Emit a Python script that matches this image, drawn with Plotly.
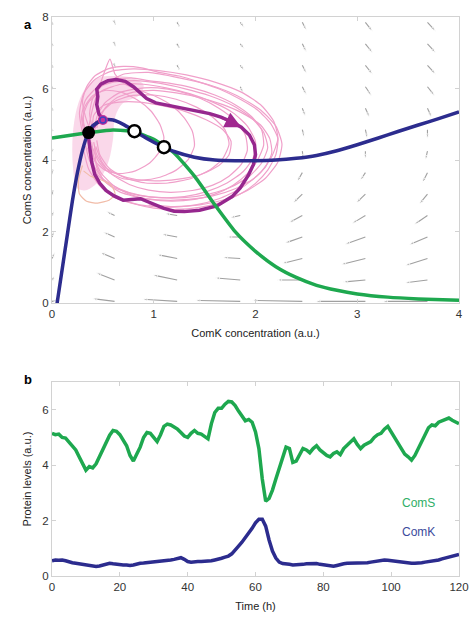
import plotly.graph_objects as go

# ---------------- Panel a data ----------------
# ComK nullcline (blue)
blue_k = [0.05, 0.10, 0.15, 0.20, 0.25, 0.30, 0.35, 0.40, 0.50, 0.60, 0.70, 0.80, 0.90, 1.00, 1.10,
          1.20, 1.40, 1.60, 1.80, 2.00, 2.20, 2.40, 2.60, 2.80, 3.00, 3.20, 3.40, 3.60, 3.80, 4.00]
blue_s = [0.00, 0.95, 1.90, 2.85, 3.65, 4.28, 4.72, 4.96, 5.13, 5.12, 5.00, 4.83, 4.66, 4.50, 4.36,
          4.24, 4.08, 4.00, 3.98, 3.98, 4.00, 4.05, 4.13, 4.26, 4.43, 4.61, 4.80, 4.98, 5.16, 5.35]
# ComS nullcline (green)
green_k = [0.0, 0.2, 0.4, 0.6, 0.8, 1.0, 1.2, 1.4, 1.6, 1.8, 2.0, 2.2, 2.4, 2.6, 2.8, 3.0, 3.3, 3.6, 4.0]
green_s = [4.62, 4.70, 4.78, 4.84, 4.80, 4.58, 4.20, 3.55, 2.75, 2.00, 1.45, 1.02, 0.72, 0.50, 0.36,
           0.26, 0.17, 0.12, 0.08]

# fixed points
stable_k, stable_s = [0.36], [4.77]
unstable_k, unstable_s = [0.81, 1.10], [4.81, 4.36]

# highlighted trajectory (purple)
traj_k = [0.50, 0.46, 0.44, 0.45, 0.44, 0.48, 0.55, 0.63, 0.72, 0.80, 0.86, 0.93, 1.02, 1.14, 1.25, 1.40,
          1.55, 1.66, 1.76, 1.86, 1.94, 1.99, 2.00, 1.98, 1.93, 1.85, 1.77, 1.62, 1.45, 1.30, 1.20, 1.10,
          0.98, 0.87, 0.78, 0.70, 0.61, 0.53, 0.47, 0.42, 0.39, 0.37, 0.36, 0.39, 0.44, 0.50]
traj_s = [5.12, 5.30, 5.55, 5.78, 5.98, 6.12, 6.22, 6.25, 6.20, 6.05, 5.90, 5.72, 5.60, 5.53, 5.49, 5.40,
          5.30, 5.20, 5.08, 4.92, 4.70, 4.42, 4.15, 3.88, 3.58, 3.22, 2.98, 2.72, 2.60, 2.56, 2.57, 2.65,
          2.78, 2.92, 2.90, 2.88, 3.00, 3.15, 3.35, 3.60, 3.95, 4.30, 4.60, 4.88, 5.05, 5.12]

# stochastic trajectories (pink loops)
loops = [
    ([0.38, 0.33, 0.30, 0.34, 0.42, 0.55, 0.70, 0.88, 1.05, 1.25, 1.45, 1.65, 1.85, 2.02, 2.15, 2.22, 2.20,
      2.12, 2.00, 1.85, 1.66, 1.45, 1.22, 1.00, 0.80, 0.62, 0.50, 0.42, 0.37, 0.38],
     [4.80, 5.20, 5.65, 6.05, 6.35, 6.55, 6.62, 6.58, 6.45, 6.35, 6.18, 5.98, 5.70, 5.40, 5.02, 4.60, 4.15,
      3.72, 3.35, 3.05, 2.82, 2.68, 2.62, 2.66, 2.78, 2.95, 3.20, 3.60, 4.10, 4.55]),
    ([0.40, 0.37, 0.40, 0.48, 0.60, 0.78, 0.95, 1.15, 1.38, 1.60, 1.80, 1.96, 2.06, 2.08, 2.02, 1.92, 1.78,
      1.60, 1.40, 1.18, 0.96, 0.76, 0.60, 0.48, 0.41, 0.39],
     [4.85, 5.30, 5.72, 6.05, 6.25, 6.30, 6.22, 6.15, 6.02, 5.82, 5.55, 5.22, 4.85, 4.42, 4.00, 3.62, 3.30,
      3.05, 2.90, 2.85, 2.90, 3.05, 3.30, 3.65, 4.10, 4.50]),
    ([0.42, 0.44, 0.52, 0.66, 0.84, 1.04, 1.25, 1.46, 1.64, 1.80, 1.90, 1.92, 1.86, 1.74, 1.58, 1.38, 1.16,
      0.95, 0.76, 0.60, 0.49, 0.43],
     [4.75, 5.20, 5.60, 5.88, 6.00, 6.02, 5.92, 5.72, 5.45, 5.10, 4.70, 4.28, 3.88, 3.55, 3.30, 3.15, 3.10,
      3.16, 3.32, 3.58, 3.95, 4.38]),
    ([0.36, 0.31, 0.32, 0.40, 0.52, 0.68, 0.84, 0.97, 1.06, 1.10, 1.06, 0.96, 0.82, 0.66, 0.52, 0.42, 0.37],
     [4.62, 5.05, 5.48, 5.80, 5.95, 5.90, 5.68, 5.38, 5.00, 4.62, 4.25, 3.92, 3.70, 3.62, 3.72, 3.98, 4.30]),
    ([0.45, 0.52, 0.64, 0.80, 1.00, 1.22, 1.45, 1.68, 1.88, 2.05, 2.14, 2.16, 2.10, 1.98, 1.80, 1.58, 1.34,
      1.10, 0.86, 0.66, 0.52, 0.44, 0.42],
     [5.00, 5.45, 5.75, 5.90, 5.95, 5.88, 5.75, 5.55, 5.30, 4.98, 4.60, 4.20, 3.82, 3.48, 3.20, 3.00, 2.90,
      2.88, 2.95, 3.12, 3.40, 3.80, 4.35]),
    ([0.36, 0.40, 0.46, 0.52, 0.57, 0.62, 0.72, 0.86, 1.02, 1.18, 1.30, 1.38, 1.40, 1.34, 1.22, 1.06, 0.88,
      0.70, 0.56, 0.46, 0.39],
     [4.90, 5.45, 6.00, 6.50, 6.82, 6.40, 6.12, 5.95, 5.78, 5.52, 5.18, 4.80, 4.40, 4.02, 3.72, 3.52, 3.44,
      3.48, 3.65, 3.95, 4.40]),
    ([0.40, 0.41, 0.50, 0.66, 0.86, 1.08, 1.32, 1.52, 1.68, 1.76, 1.74, 1.64, 1.48, 1.28, 1.06, 0.84, 0.66,
      0.52, 0.44, 0.41],
     [4.80, 5.25, 5.52, 5.62, 5.62, 5.52, 5.35, 5.12, 4.85, 4.52, 4.15, 3.85, 3.62, 3.48, 3.42, 3.45, 3.58,
      3.80, 4.15, 4.50]),
    ([0.32, 0.29, 0.33, 0.44, 0.60, 0.82, 1.05, 1.30, 1.55, 1.78, 1.96, 2.08, 2.12, 2.06, 1.94, 1.76, 1.54,
      1.30, 1.05, 0.80, 0.60, 0.46, 0.37, 0.33],
     [4.70, 5.20, 5.68, 6.02, 6.18, 6.22, 6.15, 6.00, 5.80, 5.52, 5.18, 4.78, 4.35, 3.92, 3.55, 3.25, 3.05,
      2.95, 2.95, 3.05, 3.25, 3.55, 3.98, 4.40]),
    ([0.50, 0.70, 0.95, 1.25, 1.55, 1.82, 2.05, 2.20, 2.26, 2.22, 2.10, 1.92, 1.70, 1.45, 1.20, 0.95],
     [6.10, 6.40, 6.45, 6.30, 6.10, 5.80, 5.40, 4.95, 4.45, 3.95, 3.50, 3.15, 2.90, 2.75, 2.70, 2.75]),
    ([0.34, 0.30, 0.36, 0.50, 0.68, 0.90, 1.12, 1.36, 1.58, 1.78, 1.92, 2.00, 1.98, 1.88, 1.72, 1.52, 1.30,
      1.08, 0.86, 0.66, 0.50, 0.40, 0.35],
     [4.70, 5.15, 5.62, 5.95, 6.12, 6.12, 6.02, 5.85, 5.62, 5.32, 4.95, 4.52, 4.08, 3.68, 3.36, 3.12, 2.98,
      2.95, 3.02, 3.20, 3.48, 3.90, 4.35]),
    ([0.44, 0.48, 0.60, 0.78, 1.00, 1.22, 1.42, 1.58, 1.70, 1.74, 1.68, 1.55, 1.36, 1.14, 0.92, 0.72, 0.56,
      0.47, 0.44],
     [4.90, 5.30, 5.62, 5.80, 5.82, 5.70, 5.48, 5.20, 4.85, 4.45, 4.05, 3.72, 3.48, 3.36, 3.36, 3.50, 3.78,
      4.15, 4.55]),
    ([0.30, 0.27, 0.31, 0.42, 0.58, 0.80, 1.05, 1.32, 1.60, 1.86, 2.06, 2.18, 2.22, 2.16, 2.04, 1.86, 1.64,
      1.40, 1.14, 0.88, 0.66, 0.48, 0.36, 0.31],
     [4.75, 5.30, 5.85, 6.25, 6.48, 6.55, 6.50, 6.38, 6.18, 5.90, 5.52, 5.08, 4.60, 4.10, 3.62, 3.22, 2.92,
      2.74, 2.68, 2.74, 2.92, 3.25, 3.75, 4.30]),
]
small_loop_k = [0.30, 0.26, 0.27, 0.34, 0.45, 0.56, 0.62, 0.58, 0.48, 0.38, 0.31]
small_loop_s = [3.85, 3.45, 3.05, 2.85, 2.80, 2.88, 3.05, 3.30, 3.45, 3.55, 3.70]
dense_k = [0.22, 0.20, 0.21, 0.26, 0.34, 0.45, 0.60, 0.78, 0.90, 0.85, 0.70, 0.62, 0.60, 0.56, 0.50, 0.42,
           0.32, 0.25]
dense_s = [3.40, 4.10, 4.90, 5.60, 6.05, 6.30, 6.35, 6.30, 6.10, 5.80, 5.60, 5.20, 4.60, 4.00, 3.60, 3.30,
           3.15, 3.20]

# vector field (grid + rates; None = hidden under trajectories)
field_k = [0.0, 0.615, 1.23, 1.85, 2.46, 3.08, 3.69]
field_s = [0.05, 0.65, 1.25, 1.85, 2.45, 3.05, 3.65, 4.25, 4.85, 5.45, 6.05, 6.65, 7.25, 7.85]
N = None
field_u = [
    [0.04, -0.22, -0.34, -0.44, -0.49, -0.49, -0.44],
    [0.03, -0.18, -0.24, -0.25, -0.25, -0.22, -0.22],
    [0.03, -0.14, -0.20, -0.17, -0.20, -0.24, -0.22],
    [0.02, -0.11, -0.15, -0.13, -0.17, -0.20, -0.18],
    [0.02, -0.08, -0.12, -0.10, -0.13, -0.13, -0.13],
    [0.01, N, N, N, -0.09, -0.09, -0.08],
    [0.01, N, N, N, -0.05, -0.05, -0.05],
    [0.01, N, N, N, 0.01, 0.00, -0.02],
    [0.01, N, N, N, 0.02, 0.02, 0.00],
    [0.01, N, N, N, 0.03, 0.04, 0.04],
    [0.01, N, N, 0.03, 0.04, 0.06, 0.07],
    [0.01, 0.01, 0.02, 0.04, 0.04, 0.07, 0.08],
    [0.01, 0.01, 0.02, 0.04, 0.04, 0.07, 0.08],
    [0.01, 0.01, 0.02, 0.04, 0.04, 0.07, 0.08],
]
field_v = [
    [0.03, 0.08, 0.06, 0.03, 0.03, 0.00, 0.00],
    [0.11, 0.20, 0.14, 0.06, 0.00, -0.06, -0.08],
    [0.17, 0.17, 0.11, 0.03, -0.14, -0.17, -0.20],
    [0.17, 0.14, 0.08, 0.00, -0.17, -0.20, -0.22],
    [0.14, 0.11, 0.06, -0.06, -0.20, -0.22, -0.25],
    [0.11, N, N, N, -0.25, -0.25, -0.28],
    [0.08, N, N, N, -0.25, -0.22, -0.28],
    [0.06, N, N, N, -0.22, -0.22, -0.25],
    [-0.03, N, N, N, -0.22, -0.25, -0.25],
    [-0.06, N, N, N, -0.22, -0.25, -0.25],
    [-0.06, N, N, -0.17, -0.22, -0.25, -0.25],
    [-0.06, -0.06, -0.11, -0.14, -0.22, -0.25, -0.25],
    [-0.06, -0.06, -0.11, -0.14, -0.22, -0.25, -0.25],
    [-0.06, -0.06, -0.11, -0.14, -0.22, -0.25, -0.25],
]

# ---------------- Panel b data ----------------
time_h = list(range(0, 121))
coms = [5.15, 5.10, 5.12, 5.00, 4.98, 4.85, 4.70, 4.55, 4.30, 4.05, 3.82, 3.95, 3.90, 4.05, 4.30, 4.60,
        4.85, 5.08, 5.25, 5.22, 5.10, 4.90, 4.70, 4.35, 4.15, 4.40, 4.65, 5.00, 5.18, 5.15, 5.00, 4.85,
        5.10, 5.40, 5.48, 5.45, 5.38, 5.30, 5.18, 5.05, 5.00, 5.15, 5.25, 5.15, 5.12, 5.02, 4.95, 5.50,
        5.90, 6.05, 6.05, 6.20, 6.30, 6.28, 6.15, 5.95, 5.80, 5.60, 5.65, 5.55, 5.20, 4.60, 3.50, 2.70,
        2.80, 3.10, 3.50, 3.90, 4.25, 4.65, 4.60, 4.10, 4.15, 4.40, 4.60, 4.55, 4.45, 4.60, 4.70, 4.55,
        4.45, 4.35, 4.30, 4.42, 4.48, 4.38, 4.60, 4.72, 4.80, 4.95, 4.75, 4.60, 4.72, 4.80, 4.85, 5.00,
        5.10, 5.15, 5.30, 5.40, 5.20, 4.98, 4.80, 4.60, 4.40, 4.30, 4.18, 4.35, 4.60, 4.90, 5.10, 5.35,
        5.45, 5.42, 5.55, 5.60, 5.68, 5.70, 5.62, 5.55, 5.50]
comk = [0.55, 0.58, 0.57, 0.58, 0.55, 0.50, 0.48, 0.46, 0.44, 0.42, 0.40, 0.38, 0.36, 0.34, 0.36, 0.40,
        0.44, 0.46, 0.44, 0.42, 0.42, 0.40, 0.40, 0.38, 0.40, 0.44, 0.46, 0.47, 0.48, 0.50, 0.52, 0.52,
        0.54, 0.56, 0.56, 0.58, 0.60, 0.62, 0.66, 0.60, 0.52, 0.50, 0.52, 0.52, 0.52, 0.52, 0.54, 0.55,
        0.58, 0.60, 0.64, 0.68, 0.72, 0.80, 0.92, 1.08, 1.22, 1.38, 1.55, 1.72, 1.92, 2.05, 2.05, 1.80,
        1.30, 0.90, 0.65, 0.50, 0.45, 0.42, 0.42, 0.40, 0.40, 0.40, 0.42, 0.44, 0.44, 0.46, 0.45, 0.42,
        0.40, 0.38, 0.36, 0.35, 0.38, 0.42, 0.44, 0.46, 0.46, 0.45, 0.46, 0.46, 0.46, 0.48, 0.50, 0.52,
        0.55, 0.56, 0.58, 0.57, 0.55, 0.53, 0.52, 0.52, 0.50, 0.48, 0.46, 0.46, 0.46, 0.48, 0.50, 0.52,
        0.52, 0.55, 0.58, 0.62, 0.65, 0.68, 0.72, 0.75, 0.78]

GREEN = "#1ea84f"
BLUE = "#2c2c8e"
PURPLE = "#96278e"
PINK = "#f0a0ca"
FONT = "Liberation Sans, Arial, sans-serif"

fig = go.Figure()

# vector field arrows
ax_, ay_, sz = [], [], []
for j, s0 in enumerate(field_s):
    for i, k0 in enumerate(field_k):
        u, v = field_u[j][i], field_v[j][i]
        if u is None:
            continue
        ax_ += [k0, k0 + u, None]
        ay_ += [s0, s0 + v, None]
        sz += [0, 5, 0]
fig.add_trace(go.Scatter(x=ax_, y=ay_, mode="lines+markers", xaxis="x", yaxis="y",
                         line=dict(color="#a0a0a0", width=1.1),
                         marker=dict(symbol="arrow", angleref="previous", size=sz, color="#a0a0a0"),
                         hoverinfo="skip", showlegend=False))

# dense trajectory region
fig.add_trace(go.Scatter(x=dense_k, y=dense_s, fill="toself", mode="none",
                         fillcolor="rgba(244,168,208,0.45)", xaxis="x", yaxis="y",
                         line=dict(shape="spline"), hoverinfo="skip", showlegend=False))
for lk, ls in loops:
    fig.add_trace(go.Scatter(x=lk, y=ls, mode="lines", xaxis="x", yaxis="y",
                             line=dict(color=PINK, width=1.2, shape="spline", smoothing=0.6),
                             hoverinfo="skip", showlegend=False))
fig.add_trace(go.Scatter(x=small_loop_k, y=small_loop_s, mode="lines", xaxis="x", yaxis="y",
                         line=dict(color="#f1bca8", width=1.2, shape="spline", smoothing=0.6),
                         hoverinfo="skip", showlegend=False))

# highlighted trajectory
fig.add_trace(go.Scatter(x=traj_k, y=traj_s, mode="lines", xaxis="x", yaxis="y",
                         line=dict(color=PURPLE, width=3.5), showlegend=False))

# nullclines
fig.add_trace(go.Scatter(x=green_k, y=green_s, mode="lines", xaxis="x", yaxis="y",
                         line=dict(color=GREEN, width=3.5, shape="spline", smoothing=0.5), showlegend=False))
fig.add_trace(go.Scatter(x=blue_k, y=blue_s, mode="lines", xaxis="x", yaxis="y",
                         line=dict(color=BLUE, width=3.5, shape="spline", smoothing=0.5), showlegend=False))

# start marker of trajectory
fig.add_trace(go.Scatter(x=[traj_k[0]], y=[traj_s[0]], mode="markers", xaxis="x", yaxis="y",
                         marker=dict(size=10, color="#c43099"), showlegend=False))
fig.add_trace(go.Scatter(x=[traj_k[0]], y=[traj_s[0]], mode="markers", xaxis="x", yaxis="y",
                         marker=dict(size=6, color="rgba(0,0,0,0)", line=dict(color="#4040c0", width=1.5)),
                         showlegend=False))

# fixed points
fig.add_trace(go.Scatter(x=stable_k, y=stable_s, mode="markers", xaxis="x", yaxis="y",
                         marker=dict(size=13, color="black"), showlegend=False))
fig.add_trace(go.Scatter(x=unstable_k, y=unstable_s, mode="markers", xaxis="x", yaxis="y",
                         marker=dict(size=12, color="white", line=dict(color="black", width=2.5)),
                         showlegend=False))

# panel b
fig.add_trace(go.Scatter(x=time_h, y=coms, mode="lines", xaxis="x2", yaxis="y2",
                         line=dict(color=GREEN, width=3.5), showlegend=False))
fig.add_trace(go.Scatter(x=time_h, y=comk, mode="lines", xaxis="x2", yaxis="y2",
                         line=dict(color=BLUE, width=3.5), showlegend=False))

axis_common = dict(showline=True, mirror="ticks", linecolor="#d2d2d2", linewidth=1,
                   ticks="inside", ticklen=4, tickcolor="#d2d2d2",
                   showgrid=False, zeroline=False, automargin=False, ticklabeloverflow="allow",
                   tickfont=dict(family=FONT, size=11.5, color="#333333"))
title_font = dict(family=FONT, size=11, color="#222222")

fig.update_layout(
    width=470, height=626,
    margin=dict(l=52, r=11, t=17, b=50),
    paper_bgcolor="white", plot_bgcolor="white",
    showlegend=False,
    xaxis=dict(domain=[0, 1], anchor="y", range=[0, 4], tickvals=[0, 1, 2, 3, 4],
               title=dict(text="ComK concentration (a.u.)", font=title_font, standoff=10), **axis_common),
    yaxis=dict(domain=[0.488, 1], anchor="x", range=[0, 8], tickvals=[0, 2, 4, 6, 8],
               title=dict(text="ComS concentration (a.u.)", font=title_font, standoff=8), **axis_common),
    xaxis2=dict(domain=[0, 1], anchor="y2", range=[0, 120], tickvals=[0, 20, 40, 60, 80, 100, 120],
                title=dict(text="Time (h)", font=title_font, standoff=10), **axis_common),
    yaxis2=dict(domain=[0, 0.347], anchor="x2", range=[0, 7], tickvals=[0, 2, 4, 6],
                title=dict(text="Protein levels (a.u.)", font=title_font, standoff=8), **axis_common),
    annotations=[
        dict(x=traj_k[19], y=traj_s[19], ax=traj_k[17], ay=traj_s[17], xref="x", yref="y",
             axref="x", ayref="y", text="", showarrow=True, arrowhead=2, arrowsize=1.3,
             arrowwidth=2.5, arrowcolor="#a0288f", standoff=0),
        dict(x=-0.073, y=1.004, xref="paper", yref="paper", text="<b>a</b>", showarrow=False,
             font=dict(family=FONT, size=13, color="black")),
        dict(x=-0.073, y=0.351, xref="paper", yref="paper", text="<b>b</b>", showarrow=False,
             font=dict(family=FONT, size=13, color="black")),
        dict(x=108, y=2.63, xref="x2", yref="y2", text="ComS", showarrow=False,
             font=dict(family=FONT, size=12, color="#2fae66")),
        dict(x=108, y=1.58, xref="x2", yref="y2", text="ComK", showarrow=False,
             font=dict(family=FONT, size=12, color="#3b4a9c")),
    ],
)

fig.write_html("out.html", config={"displayModeBar": False},
               post_script="document.body.style.margin='0px';document.body.style.padding='0px';")
